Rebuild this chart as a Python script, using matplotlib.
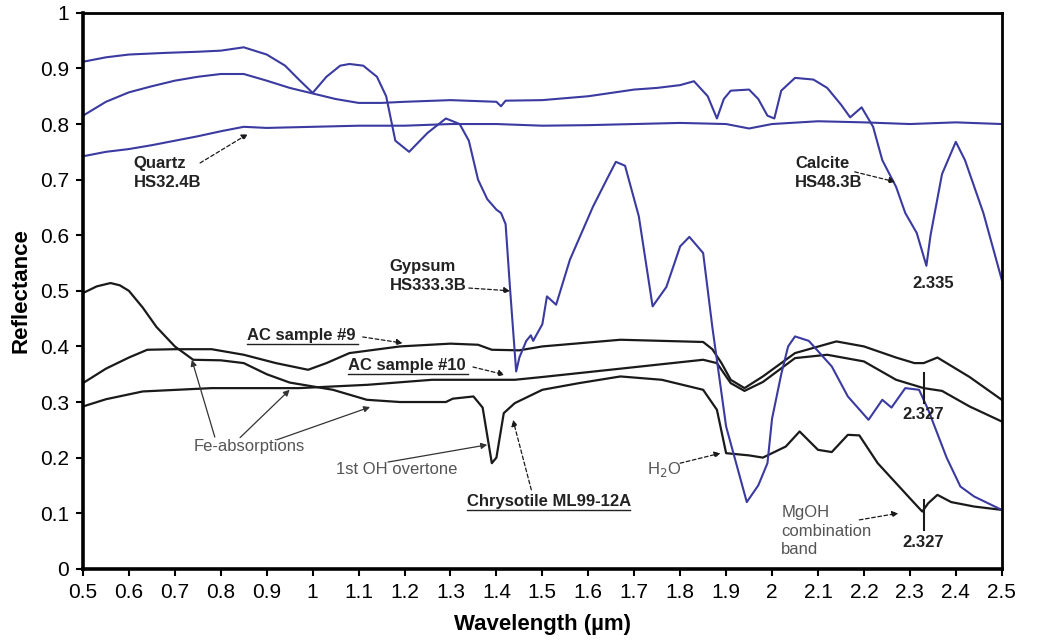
import matplotlib
matplotlib.use('Agg')
import matplotlib.pyplot as plt

plt.rcParams['font.family'] = ['Liberation Sans', 'DejaVu Sans']

# --- spectra (wavelength in um, reflectance) ---
quartz_wl = [0.50, 0.55, 0.60, 0.65, 0.70, 0.75, 0.80, 0.85, 0.90, 1.00, 1.10, 1.20, 1.30,
             1.40, 1.50, 1.60, 1.70, 1.80, 1.90, 1.95, 2.00, 2.10, 2.20, 2.30, 2.40, 2.50]
quartz_r = [0.742, 0.750, 0.755, 0.762, 0.770, 0.778, 0.787, 0.795, 0.793, 0.795, 0.797, 0.797, 0.800,
            0.800, 0.797, 0.798, 0.800, 0.802, 0.800, 0.792, 0.800, 0.805, 0.803, 0.800, 0.803, 0.800]

calcite_wl = [0.50, 0.55, 0.60, 0.65, 0.70, 0.75, 0.80, 0.85, 0.90, 0.95, 1.00, 1.05, 1.10,
              1.15, 1.20, 1.30, 1.40, 1.41, 1.42, 1.50, 1.60, 1.70, 1.75, 1.80, 1.83, 1.86,
              1.88, 1.895, 1.91, 1.95, 1.97, 1.99, 2.005, 2.02, 2.05, 2.09, 2.12, 2.15, 2.17,
              2.195, 2.22, 2.24, 2.27, 2.29, 2.315, 2.336, 2.345, 2.37, 2.40, 2.42, 2.46, 2.50]
calcite_r = [0.815, 0.840, 0.857, 0.868, 0.878, 0.885, 0.890, 0.890, 0.878, 0.865, 0.855, 0.845, 0.838,
             0.838, 0.840, 0.843, 0.840, 0.832, 0.842, 0.843, 0.850, 0.862, 0.865, 0.870, 0.877, 0.850,
             0.810, 0.845, 0.860, 0.862, 0.845, 0.815, 0.810, 0.860, 0.883, 0.880, 0.865, 0.835, 0.812,
             0.830, 0.795, 0.735, 0.687, 0.640, 0.604, 0.545, 0.600, 0.710, 0.768, 0.735, 0.640, 0.520]

gypsum_wl = [0.50, 0.55, 0.60, 0.68, 0.75, 0.80, 0.85, 0.90, 0.94, 0.97, 1.00, 1.03, 1.06, 1.08,
             1.11, 1.14, 1.16, 1.18, 1.21, 1.25, 1.29, 1.32, 1.34, 1.36, 1.38, 1.40, 1.41, 1.42,
             1.43, 1.443, 1.45, 1.465, 1.475, 1.48, 1.50, 1.51, 1.53, 1.56, 1.61, 1.64, 1.66, 1.68,
             1.71, 1.74, 1.77, 1.80, 1.82, 1.85, 1.87, 1.90, 1.945, 1.97, 1.99, 2.00, 2.02, 2.035,
             2.05, 2.08, 2.13, 2.165, 2.21, 2.24, 2.26, 2.29, 2.32, 2.34, 2.38, 2.41, 2.44, 2.50]
gypsum_r = [0.912, 0.920, 0.925, 0.928, 0.930, 0.932, 0.938, 0.925, 0.905, 0.880, 0.856, 0.885, 0.905, 0.908,
            0.905, 0.885, 0.850, 0.770, 0.750, 0.784, 0.810, 0.800, 0.770, 0.700, 0.665, 0.646, 0.640, 0.620,
            0.500, 0.355, 0.380, 0.410, 0.420, 0.410, 0.440, 0.490, 0.475, 0.556, 0.651, 0.700, 0.732, 0.725,
            0.634, 0.472, 0.507, 0.580, 0.597, 0.568, 0.435, 0.256, 0.120, 0.150, 0.190, 0.270, 0.350, 0.400,
            0.418, 0.410, 0.364, 0.310, 0.268, 0.304, 0.290, 0.325, 0.322, 0.286, 0.200, 0.148, 0.130, 0.106]

ac9_wl = [0.50, 0.55, 0.60, 0.64, 0.70, 0.78, 0.85, 0.92, 0.99, 1.03, 1.08, 1.19, 1.30, 1.36, 1.39,
          1.45, 1.50, 1.67, 1.85, 1.87, 1.89, 1.91, 1.94, 1.98, 2.05, 2.14, 2.20, 2.27, 2.31, 2.33,
          2.36, 2.43, 2.50]
ac9_r = [0.334, 0.360, 0.380, 0.394, 0.395, 0.395, 0.385, 0.370, 0.358, 0.370, 0.388, 0.400, 0.405, 0.403, 0.394,
         0.393, 0.400, 0.412, 0.408, 0.395, 0.370, 0.340, 0.325, 0.346, 0.388, 0.409, 0.400, 0.380, 0.370, 0.370,
         0.380, 0.345, 0.304]

ac10_wl = [0.50, 0.55, 0.63, 0.78, 0.97, 1.12, 1.26, 1.41, 1.44, 1.50, 1.67, 1.85, 1.88, 1.91, 1.94,
           1.98, 2.05, 2.12, 2.20, 2.27, 2.33, 2.37, 2.43, 2.50]
ac10_r = [0.292, 0.305, 0.319, 0.325, 0.325, 0.331, 0.340, 0.340, 0.340, 0.345, 0.360, 0.376, 0.370, 0.334, 0.320,
          0.336, 0.379, 0.385, 0.373, 0.340, 0.325, 0.320, 0.292, 0.265]

chry_wl = [0.50, 0.53, 0.56, 0.58, 0.60, 0.63, 0.66, 0.70, 0.74, 0.80, 0.85, 0.90, 0.95, 1.044, 1.118,
           1.19, 1.29, 1.305, 1.35, 1.37, 1.38, 1.39, 1.40, 1.416, 1.44, 1.50, 1.58, 1.67, 1.76,
           1.85, 1.88, 1.90, 1.95, 1.98, 2.03, 2.06, 2.10, 2.13, 2.165, 2.19, 2.23, 2.27, 2.31,
           2.327, 2.34, 2.36, 2.39, 2.44, 2.50]
chry_r = [0.496, 0.508, 0.514, 0.510, 0.500, 0.470, 0.435, 0.400, 0.376, 0.375, 0.370, 0.350, 0.335, 0.322, 0.304,
          0.300, 0.300, 0.306, 0.310, 0.290, 0.240, 0.190, 0.200, 0.280, 0.298, 0.322, 0.334, 0.346, 0.340,
          0.322, 0.286, 0.208, 0.204, 0.200, 0.220, 0.247, 0.214, 0.210, 0.241, 0.240, 0.190, 0.154, 0.118,
          0.103, 0.118, 0.133, 0.120, 0.112, 0.106]

x_ticks = [0.5, 0.6, 0.7, 0.8, 0.9, 1, 1.1, 1.2, 1.3, 1.4, 1.5, 1.6, 1.7, 1.8, 1.9, 2, 2.1, 2.2, 2.3, 2.4, 2.5]
y_ticks = [0, 0.1, 0.2, 0.3, 0.4, 0.5, 0.6, 0.7, 0.8, 0.9, 1]

blue = '#3a3aa0'
black = '#1a1a1a'
grey = '#555555'
dark = '#222222'

fig = plt.figure(figsize=(10.37, 6.42), dpi=100)
ax = fig.add_axes([0.080, 0.114, 0.886, 0.866])

ax.plot(ac9_wl, ac9_r, color=black, lw=1.6)
ax.plot(ac10_wl, ac10_r, color=black, lw=1.6)
ax.plot(chry_wl, chry_r, color=black, lw=1.6)
ax.plot(quartz_wl, quartz_r, color=blue, lw=1.5)
ax.plot(calcite_wl, calcite_r, color=blue, lw=1.5)
ax.plot(gypsum_wl, gypsum_r, color=blue, lw=1.5)

ax.set_xlim(0.5, 2.5)
ax.set_ylim(0, 1)
ax.set_xticks(x_ticks)
ax.set_xticklabels([f'{t:g}' for t in x_ticks])
ax.set_yticks(y_ticks)
ax.set_yticklabels([f'{t:g}' for t in y_ticks])
ax.tick_params(direction='out', length=5, width=1.5, labelsize=15, pad=5)
for s in ax.spines.values():
    s.set_linewidth(2)
ax.spines['left'].set_linewidth(2.6)
ax.spines['bottom'].set_linewidth(2.6)
ax.set_xlabel('Wavelength (µm)', fontsize=16, fontweight='bold', labelpad=9)
ax.set_ylabel('Reflectance', fontsize=16, fontweight='bold', labelpad=6)

dashed = dict(arrowstyle='-|>', color=black, lw=0.9, linestyle=(0, (3, 2)),
              mutation_scale=9, shrinkA=0, shrinkB=0)
solid = dict(arrowstyle='-|>', color='#333333', lw=0.9, mutation_scale=9, shrinkA=0, shrinkB=0)

fs = 12

# sample labels
ax.text(0.61, 0.712, 'Quartz\nHS32.4B', fontsize=fs, fontweight='bold', color=dark,
        va='center', linespacing=1.3)
ax.annotate('', xy=(0.859, 0.782), xytext=(0.755, 0.73), arrowprops=dashed)

ax.text(1.168, 0.527, 'Gypsum\nHS333.3B', fontsize=fs, fontweight='bold', color=dark,
        va='center', linespacing=1.3)
ax.annotate('', xy=(1.43, 0.50), xytext=(1.34, 0.505), arrowprops=dashed)

ax.text(2.05, 0.712, 'Calcite\nHS48.3B', fontsize=fs, fontweight='bold', color=dark,
        va='center', linespacing=1.3)
ax.annotate('', xy=(2.268, 0.696), xytext=(2.18, 0.714), arrowprops=dashed)
ax.text(2.35, 0.514, '2.335', fontsize=fs, fontweight='bold', color=dark,
        ha='center', va='center')

ax.text(0.857, 0.42, 'AC sample #9', fontsize=fs, fontweight='bold', color=dark,
        va='center')
ax.plot([0.857, 1.098], [0.405, 0.405], color=dark, lw=1)
ax.annotate('', xy=(1.196, 0.406), xytext=(1.109, 0.417), arrowprops=dashed)

ax.text(1.077, 0.366, 'AC sample #10', fontsize=fs, fontweight='bold', color=dark,
        va='center')
ax.plot([1.077, 1.338], [0.351, 0.351], color=dark, lw=1)
ax.annotate('', xy=(1.418, 0.349), xytext=(1.349, 0.363), arrowprops=dashed)

ax.text(1.335, 0.121, 'Chrysotile ML99-12A', fontsize=fs, fontweight='bold', color=dark,
        va='center')
ax.plot([1.335, 1.69], [0.106, 0.106], color=dark, lw=1)
ax.annotate('', xy=(1.436, 0.268), xytext=(1.476, 0.142), arrowprops=dashed)

# absorption features
ax.text(0.863, 0.22, 'Fe-absorptions', fontsize=fs, color=grey, ha='center', va='center')
ax.annotate('', xy=(0.737, 0.376), xytext=(0.787, 0.237), arrowprops=solid)
ax.annotate('', xy=(0.95, 0.322), xytext=(0.842, 0.236), arrowprops=solid)
ax.annotate('', xy=(1.125, 0.291), xytext=(0.922, 0.232), arrowprops=solid)

ax.text(1.05, 0.178, '1st OH overtone', fontsize=fs, color=grey, va='center')
ax.annotate('', xy=(1.38, 0.223), xytext=(1.164, 0.192), arrowprops=solid)

ax.text(1.765, 0.178, 'H$_2$O', fontsize=fs, color=grey, ha='center', va='center')
ax.annotate('', xy=(1.888, 0.208), xytext=(1.80, 0.19), arrowprops=dashed)

ax.text(2.02, 0.068, 'MgOH\ncombination\nband', fontsize=fs, color=grey, va='center',
        linespacing=1.3)
ax.annotate('', xy=(2.275, 0.10), xytext=(2.19, 0.088), arrowprops=dashed)

ax.plot([2.33, 2.33], [0.07, 0.124], color=black, lw=1.5)
ax.text(2.33, 0.047, '2.327', fontsize=fs, fontweight='bold', color=dark,
        ha='center', va='center')
ax.plot([2.33, 2.33], [0.298, 0.352], color=black, lw=1.5)
ax.text(2.33, 0.277, '2.327', fontsize=fs, fontweight='bold', color=dark,
        ha='center', va='center')

fig.savefig('out.png', dpi=100)
